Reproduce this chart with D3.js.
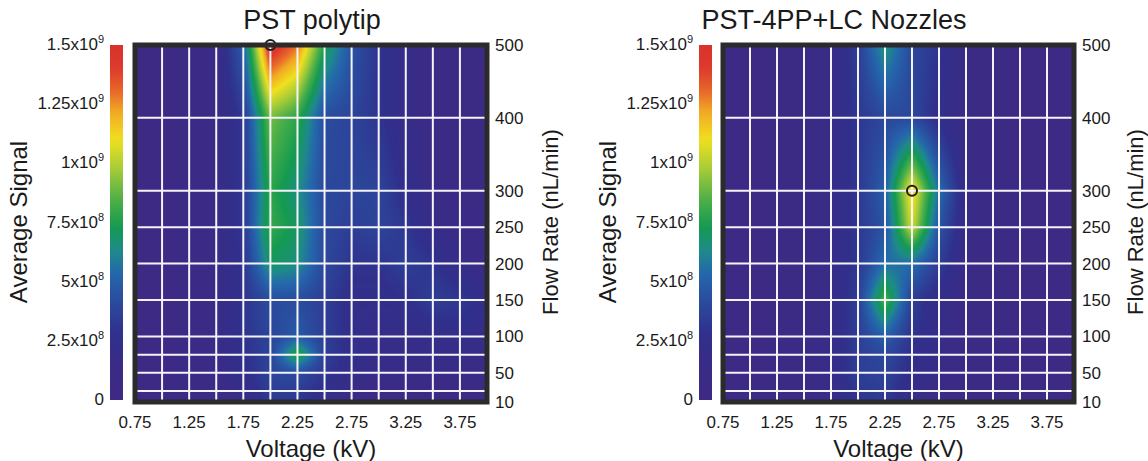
<!DOCTYPE html>
<html>
<head>
<meta charset="utf-8">
<script src="https://cdn.jsdelivr.net/npm/d3@7"></script>
<style>
  body { margin: 0; background: #fff; }
  svg text { font-family: "Liberation Sans", Arial, sans-serif; fill: #1a1a1a; }
</style>
</head>
<body>
<script>
// voltage columns (kV) and flow rate rows (nL/min, top to bottom)
const voltages = [0.75, 1.0, 1.25, 1.5, 1.75, 2.0, 2.25, 2.5, 2.75, 3.0, 3.25, 3.5, 3.75, 4.0];
const flowRows = [500, 400, 300, 250, 200, 150, 100, 75, 50, 25, 10];

// tick labels
const voltTicks = [0.75, 1.25, 1.75, 2.25, 2.75, 3.25, 3.75];
const flowTicks = [500, 400, 300, 250, 200, 150, 100, 50, 10];
const signalTicks = [0, 2.5e8, 5e8, 7.5e8, 1e9, 1.25e9, 1.5e9];

// average signal, units of 1e8, one row per flow rate (500 -> 10)
const polytipSignal = [
  [0.6, 0.6, 0.8, 1.5, 5.0, 15, 13, 7.5, 4.5, 3.0, 2.0, 1.2, 0.8, 0.6],
  [0.6, 0.6, 0.8, 1.5, 3.2, 9.0, 7.8, 4.2, 3.8, 3.0, 2.0, 1.2, 0.8, 0.7],
  [0.6, 0.6, 0.8, 1.5, 3.2, 7.8, 6.5, 4.0, 3.8, 3.8, 2.5, 1.5, 1.0, 0.8],
  [0.6, 0.6, 0.8, 1.5, 3.2, 8.0, 7.0, 4.0, 3.5, 3.8, 3.2, 2.0, 1.2, 1.0],
  [0.6, 0.6, 0.8, 1.5, 3.0, 7.0, 6.5, 4.0, 3.0, 3.0, 3.5, 3.0, 2.0, 1.2],
  [0.6, 0.6, 0.8, 1.5, 3.0, 4.2, 4.2, 3.5, 2.5, 2.5, 2.8, 3.5, 3.2, 2.5],
  [0.6, 0.6, 0.8, 1.5, 3.0, 3.8, 4.8, 3.5, 2.5, 2.0, 2.0, 2.2, 2.5, 2.0],
  [0.6, 0.6, 0.8, 1.5, 2.8, 3.8, 8.0, 3.5, 2.5, 2.0, 2.0, 2.0, 2.0, 1.5],
  [0.6, 0.6, 0.8, 1.5, 2.5, 3.8, 4.2, 3.2, 2.2, 1.8, 1.6, 1.5, 1.5, 1.2],
  [0.6, 0.6, 0.8, 1.2, 2.0, 3.5, 3.5, 2.5, 1.5, 1.0, 1.0, 0.8, 0.8, 0.8],
  [0.5, 0.5, 0.6, 1.0, 1.8, 3.2, 3.2, 2.2, 1.2, 0.8, 0.5, 0.5, 0.5, 0.5]
];

const nozzleSignal = [
  [0.6, 0.6, 0.8, 1.2, 1.8, 3.5, 6.8, 4.0, 3.0, 1.2, 0.8, 0.6, 0.6, 0.6],
  [0.6, 0.6, 0.8, 1.2, 1.8, 3.2, 4.0, 4.0, 2.5, 1.5, 0.8, 0.6, 0.6, 0.6],
  [0.6, 0.6, 0.8, 1.2, 1.8, 3.2, 5.0, 11.5, 5.5, 1.8, 1.0, 0.6, 0.6, 0.6],
  [0.6, 0.6, 0.8, 1.2, 1.8, 3.2, 4.5, 10.5, 4.5, 1.8, 1.0, 0.6, 0.6, 0.6],
  [0.6, 0.6, 0.8, 1.2, 1.8, 3.2, 5.5, 5.5, 3.5, 1.5, 0.8, 0.6, 0.6, 0.6],
  [0.6, 0.6, 0.8, 1.2, 2.0, 3.5, 8.5, 3.5, 2.2, 1.2, 0.8, 0.6, 0.6, 0.6],
  [0.6, 0.6, 0.8, 1.2, 2.0, 3.5, 5.0, 3.0, 2.0, 1.0, 0.8, 0.6, 0.6, 0.6],
  [0.6, 0.6, 0.8, 1.2, 2.0, 3.5, 4.0, 2.8, 1.8, 1.0, 0.8, 0.6, 0.6, 0.6],
  [0.6, 0.6, 0.8, 1.2, 2.0, 3.5, 3.8, 2.5, 1.5, 0.8, 0.6, 0.6, 0.6, 0.6],
  [0.6, 0.6, 0.8, 1.2, 2.0, 3.2, 3.5, 2.2, 1.2, 0.8, 0.6, 0.6, 0.6, 0.6],
  [0.6, 0.6, 0.8, 1.2, 1.8, 3.0, 3.2, 2.0, 1.0, 0.8, 0.6, 0.6, 0.6, 0.6]
];

// optimum points marked with a circle
const polytipBest = { voltage: 2.0, flow: 500 };
const nozzleBest = { voltage: 2.5, flow: 300 };

// rainbow colour map (signal in 1e8 -> colour)
const cmapStops = [0, 1.4, 2.8, 4.2, 5.3, 6.3, 7.3, 8.4, 9.8, 11.0, 12.2, 13.0, 14.0, 15.0];
const cmapColors = ["#3e2a84", "#3a2b86", "#30308c", "#2a4c9e", "#2466ac", "#1e8a8a",
  "#149a50", "#4aae48", "#a8cc38", "#f0e01e", "#f2a824", "#e86a2a", "#de3a2c", "#d8322b"];

const color = d3.scaleLinear()
  .domain(cmapStops)
  .range(cmapColors)
  .interpolate(d3.interpolateRgb)
  .clamp(true);

const W = 1148, H = 461;
const plotTop = 45, plotBottom = 402;

const svg = d3.select("body").append("svg")
  .attr("width", W)
  .attr("height", H);

// colour bar gradient, shared by both panels
const grad = svg.append("defs").append("linearGradient")
  .attr("id", "cbar")
  .attr("x1", 0).attr("y1", 1).attr("x2", 0).attr("y2", 0);
grad.selectAll("stop")
  .data(d3.range(0, 1.0001, 0.02))
  .join("stop")
  .attr("offset", d => d)
  .attr("stop-color", d => color(d * 15));

let supFormat = v => {
  if (v === 0) return ["0", ""];
  let e = Math.floor(Math.log10(v) + 1e-9),
    m = +(v / Math.pow(10, e)).toFixed(2);
  return [m + "x10", String(e)];
};

let drawPanel = (opt) => {
  let x = d3.scaleLinear().domain([0.75, 4.0]).range([opt.x0, opt.x1]),
    y = d3.scaleLinear().domain([10, 500]).range([plotBottom, plotTop]),
    cy = d3.scaleLinear().domain([0, 1.5e9]).range([400, 45]);

  let g = svg.append("g");

  // heat map: bilinear fill between the measured grid nodes
  let pw = Math.round(opt.x1 - opt.x0), ph = Math.round(plotBottom - plotTop),
    canvas = document.createElement("canvas");
  canvas.width = pw; canvas.height = ph;
  let ctx = canvas.getContext("2d"),
    img = ctx.createImageData(pw, ph);
  for (let py = 0; py < ph; py++) {
    let f = y.invert(plotTop + py + 0.5), j = 0;
    while (j < flowRows.length - 2 && f < flowRows[j + 1]) j++;
    let ty = (flowRows[j] - f) / (flowRows[j] - flowRows[j + 1]);
    ty = Math.max(0, Math.min(1, ty));
    for (let px = 0; px < pw; px++) {
      let v = x.invert(opt.x0 + px + 0.5),
        i = Math.min(voltages.length - 2, Math.max(0, d3.bisectRight(voltages, v) - 1)),
        tx = Math.max(0, Math.min(1, (v - voltages[i]) / (voltages[i + 1] - voltages[i]))),
        z = opt.data,
        top = z[j][i] * (1 - tx) + z[j][i + 1] * tx,
        bot = z[j + 1][i] * (1 - tx) + z[j + 1][i + 1] * tx,
        c = d3.rgb(color(top * (1 - ty) + bot * ty)),
        k = (py * pw + px) * 4;
      img.data[k] = c.r; img.data[k + 1] = c.g; img.data[k + 2] = c.b; img.data[k + 3] = 255;
    }
  }
  ctx.putImageData(img, 0, 0);
  g.append("image")
    .attr("x", opt.x0).attr("y", plotTop)
    .attr("width", pw).attr("height", ph)
    .attr("preserveAspectRatio", "none")
    .attr("href", canvas.toDataURL());

  // white grid at the measured points
  g.selectAll(".vgrid")
    .data(voltages.slice(1, -1))
    .join("line")
    .attr("x1", d => x(d)).attr("x2", d => x(d))
    .attr("y1", plotTop).attr("y2", plotBottom)
    .attr("stroke", "#f4f3f8").attr("stroke-width", 2);
  g.selectAll(".hgrid")
    .data(flowRows.slice(1, -1))
    .join("line")
    .attr("y1", d => y(d)).attr("y2", d => y(d))
    .attr("x1", opt.x0).attr("x2", opt.x1)
    .attr("stroke", "#f4f3f8").attr("stroke-width", 2);

  // optimum marker
  g.append("circle")
    .attr("cx", x(opt.best.voltage)).attr("cy", y(opt.best.flow))
    .attr("r", 5)
    .attr("fill", "none")
    .attr("stroke", "#1e1e1e")
    .attr("stroke-width", 2);

  // frame
  g.append("rect")
    .attr("x", opt.x0).attr("y", plotTop)
    .attr("width", opt.x1 - opt.x0).attr("height", plotBottom - plotTop)
    .attr("fill", "none")
    .attr("stroke", "#2b2b2b")
    .attr("stroke-width", 5);

  // colour bar
  g.append("rect")
    .attr("x", opt.cbX).attr("y", cy(1.5e9))
    .attr("width", 13).attr("height", cy(0) - cy(1.5e9))
    .attr("fill", "url(#cbar)");

  let cb = g.selectAll(".cbl")
    .data(signalTicks)
    .join("text")
    .attr("x", opt.cbX - 6)
    .attr("y", d => cy(d) + 5)
    .attr("text-anchor", "end")
    .attr("font-size", 17);
  cb.append("tspan").text(d => supFormat(d)[0]);
  cb.append("tspan")
    .attr("dy", -7)
    .attr("font-size", 11)
    .text(d => supFormat(d)[1]);

  // right axis: flow rate
  g.selectAll(".fl")
    .data(flowTicks)
    .join("text")
    .attr("x", opt.x1 + 8)
    .attr("y", d => y(d) + 6)
    .attr("font-size", 17)
    .text(d => d);

  // bottom axis: voltage
  g.selectAll(".vl")
    .data(voltTicks)
    .join("text")
    .attr("x", d => x(d))
    .attr("y", 428)
    .attr("text-anchor", "middle")
    .attr("font-size", 17)
    .text(d => d3.format(".2f")(d));

  let cx = (opt.x0 + opt.x1) / 2;
  g.append("text")
    .attr("x", cx).attr("y", 457)
    .attr("text-anchor", "middle")
    .attr("font-size", 24)
    .text("Voltage (kV)");

  g.append("text")
    .attr("x", opt.titleX).attr("y", 29)
    .attr("text-anchor", "middle")
    .attr("font-size", 27)
    .text(opt.title);

  g.append("text")
    .attr("transform", "translate(" + opt.leftLabelX + ", 222) rotate(-90)")
    .attr("text-anchor", "middle")
    .attr("dominant-baseline", "central")
    .attr("font-size", 24)
    .text("Average Signal");

  g.append("text")
    .attr("transform", "translate(" + opt.rightLabelX + ", 222) rotate(-90)")
    .attr("text-anchor", "middle")
    .attr("dominant-baseline", "central")
    .attr("font-size", 22)
    .text("Flow Rate (nL/min)");
};

drawPanel({
  title: "PST polytip", data: polytipSignal, best: polytipBest,
  x0: 135, x1: 487, cbX: 110, leftLabelX: 18, rightLabelX: 550, titleX: 312
});
drawPanel({
  title: "PST-4PP+LC Nozzles", data: nozzleSignal, best: nozzleBest,
  x0: 723, x1: 1074, cbX: 699, leftLabelX: 607, rightLabelX: 1135, titleX: 834
});
</script>
</body>
</html>
